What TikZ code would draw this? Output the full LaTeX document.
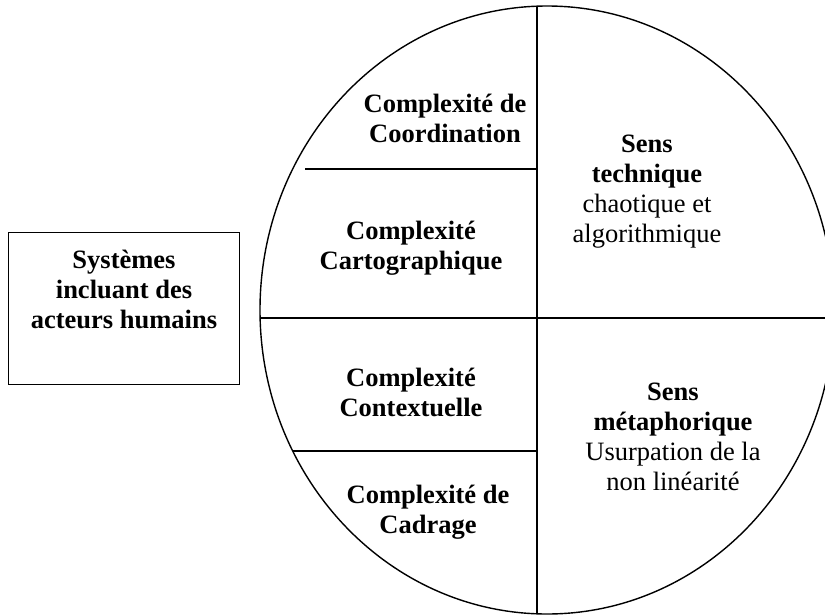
\documentclass[tikz,border=0pt]{standalone}
\usepackage{fontspec}
\setmainfont{Liberation Serif}

\begin{document}
\begin{tikzpicture}[x=1pt,y=-1pt,
    txt/.style={align=center,anchor=base,inner sep=0pt,font=\fontsize{26.5}{30}\selectfont},
    lbl/.style={txt,font=\fontsize{26.5}{30}\selectfont\bfseries},
    rule/.style={line width=1.4pt}]
    \useasboundingbox (0,0) rectangle (825,614);
    \draw[rule] (547,310) ellipse [x radius=287pt, y radius=304pt];
    \coordinate (n) at (537,6.2);
    \coordinate (s) at (537,614);
    \coordinate (w) at (260,318);
    \coordinate (e) at (834,318);
    \coordinate (u) at (305,169);
    \coordinate (um) at (537,169);
    \coordinate (l) at (292.7,451);
    \coordinate (lm) at (537,451);
    \draw[rule] (n) -- (s);
    \draw[rule] (w) -- (e);
    \draw[rule] (u) -- (um);
    \draw[rule] (l) -- (lm);
    \node[draw,rule,anchor=north west,inner sep=0pt,minimum width=231pt,minimum height=152pt] (box) at (8,232) {};
    \node[lbl] (sys) at (124,328) {Systèmes\\incluant des\\acteurs humains};
    \node[lbl] (a) at (445,142) {Complexité de\\Coordination};
    \node[lbl] (b) at (411,269) {Complexité\\Cartographique};
    \node[lbl] (c) at (411,416) {Complexité\\Contextuelle};
    \node[lbl] (d) at (428,533) {Complexité de\\Cadrage};
    \node[txt] (f) at (647,242) {\textbf{Sens}\\\textbf{technique}\\chaotique et\\algorithmique};
    \node[txt] (g) at (673,490) {\textbf{Sens}\\\textbf{métaphorique}\\Usurpation de la\\non linéarité};
\end{tikzpicture}
\end{document}
